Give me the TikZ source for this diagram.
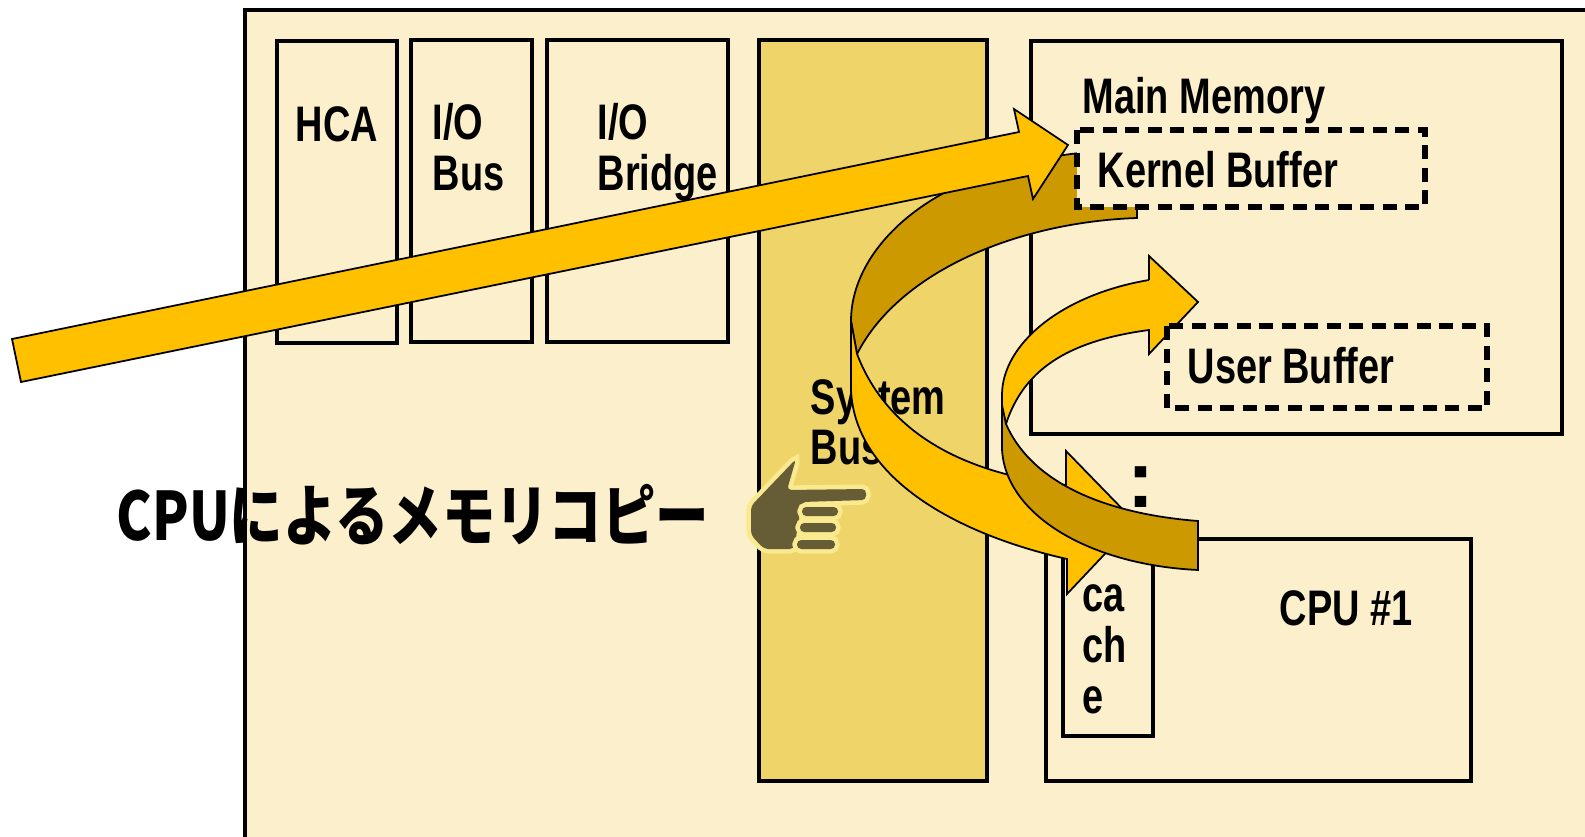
\documentclass[tikz,border=0pt]{standalone}
\usepackage{fontspec}
\setmainfont[FakeStretch=0.76]{Liberation Sans}
\newfontfamily\cjk[FakeStretch=0.8]{Noto Sans CJK JP}
\newfontfamily\dotfont{Liberation Sans}
\definecolor{boardfill}{HTML}{FBF0CB}
\definecolor{busfill}{HTML}{EFD469}
\definecolor{arrowlight}{HTML}{FFC000}
\definecolor{arrowdark}{HTML}{CC9900}
\definecolor{handdark}{HTML}{665C36}
\definecolor{handglow}{HTML}{F9E98F}
\begin{document}
\begin{tikzpicture}[x=0.01cm, y=-0.01cm,
    every node/.style={font=\fontsize{14.2pt}{17pt}\selectfont\bfseries, anchor=base west, inner sep=0pt},
    box/.style={draw, line width=1.3pt, fill=boardfill},
    bufferbox/.style={draw, line width=1.5pt, fill=boardfill, dash pattern=on 4pt off 2.4pt},
    bandlight/.style={draw, line width=0.5pt, fill=arrowlight},
    banddark/.style={draw, line width=0.5pt, fill=arrowdark},
    handpart/.style={fill=handdark, rounded corners=1.2pt, preaction={draw=handglow, line width=2.6pt}}]
    \clip (0,0) rectangle (1585,837);
    \fill[white] (0,0) rectangle (1585,837);

    \draw[box] (245,10) rectangle (1600,860);
    \draw[box] (277,41) rectangle (397,343);
    \draw[box] (411,40) rectangle (532,342);
    \draw[box] (547,40) rectangle (728,342);
    \draw[box, fill=busfill] (759,40) rectangle (987,781);
    \draw[box] (1031,41) rectangle (1562,434);
    \draw[box] (1046,539) rectangle (1471,781);
    \draw[box] (1063,541) rectangle (1153,736);

    \node (hca) at (295,142) {HCA};
    \node (iobus1) at (432,140) {I/O};
    \node (iobus2) at (432,191) {Bus};
    \node (bridge1) at (597,140) {I/O};
    \node (bridge2) at (597,191) {Bridge};
    \node (sysbus1) at (810,415) {System};
    \node (sysbus2) at (810,465) {Bus};
    \node (memory) at (1082,114) {Main Memory};
    \node (cpu) at (1279,625) {CPU \#1};
    \node (cache1) at (1082,611) {ca};
    \node (cache2) at (1082,662) {ch};
    \node (cache3) at (1082,713) {e};
    \node[font=\fontsize{23pt}{25pt}\selectfont\dotfont\bfseries] (dots) at (1127,507) {:};

    \draw[banddark] (1137,150) -- (1137,218) .. controls (1020,222) and (900,270) .. (857,354)
        -- (851,321) .. controls (851,240) and (950,150) .. (1137,150);
    \draw[bandlight] (851,321) -- (851,390) .. controls (855,480) and (960,535) .. (1067,559)
        -- (1067,594) -- (1135,522) -- (1066,451) -- (1066,485)
        .. controls (975,475) and (890,440) .. (857,354) -- cycle;
    \draw[bandlight] (1149,280) -- (1149,256) -- (1198,302) -- (1149,354) -- (1149,330)
        .. controls (1075,340) and (1025,365) .. (1006,424) -- (1002,410) -- (1002,395)
        .. controls (1002,345) and (1060,295) .. (1149,280);
    \draw[banddark] (1002,405) -- (1002,449) .. controls (1005,515) and (1090,565) .. (1198,570)
        -- (1198,521) .. controls (1120,515) and (1035,490) .. (1006,424) -- cycle;

    \draw[bufferbox] (1077,130) rectangle (1425,207);
    \draw[bufferbox] (1167,326) rectangle (1487,408);
    \node (kernel) at (1097,188) {Kernel Buffer};
    \node (user) at (1187,384) {User Buffer};

    \draw[bandlight] (12,339) -- (1019,132) -- (1014,109) -- (1068,145) -- (1033,199)
        -- (1028,176) -- (21,382) -- cycle;

    \node[font=\fontsize{19pt}{21pt}\selectfont\cjk\bfseries] (title) at (116,540) {CPUによるメモリコピー};

    \path[handpart] (796,459) -- (787,490) -- (866,489) -- (866,500) -- (802,502) -- (794,549)
        -- (764,549) -- (751,535) -- (751,506) -- cycle;
    \path[handpart] (802,507) rectangle (838,516);
    \path[handpart] (800,523) rectangle (836,532);
    \path[handpart] (797,540) rectangle (835,549);
  \end{tikzpicture}
\end{document}
